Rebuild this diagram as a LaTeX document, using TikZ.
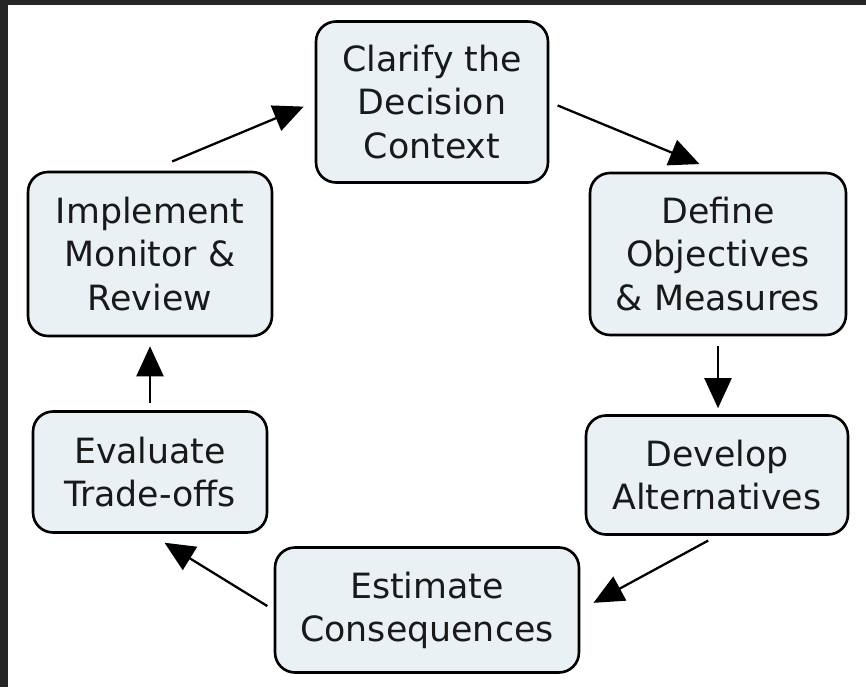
\documentclass[tikz,border=0pt]{standalone}
\usepackage{fontspec}
\setmainfont{DejaVu Sans}
\usetikzlibrary{arrows.meta}
\definecolor{stageFill}{RGB}{234, 241, 245}
\definecolor{frameDark}{RGB}{38, 38, 38}
\definecolor{textDark}{RGB}{25, 25, 25}

\begin{document}
\begin{tikzpicture} [
        x=0.02cm, y=-0.02cm,
        font=\fontsize{19.8}{24.5}\selectfont,
        stage/.style={draw, line width=1.5pt, rounded corners=0.4cm, fill=stageFill, align=center, text=textDark, inner sep=0pt},
        flow/.style={line width=1.3pt, -{Triangle[length=0.6cm, width=0.54cm]}},
    ]

    % frame of the screenshot
    \fill[frameDark] (0,0) rectangle (866,687);
    \fill[white] (8,5) rectangle (866,687);
    \useasboundingbox (0,0) rectangle (866,687);

    \path (432,102) node[stage, minimum width=4.64cm, minimum height=3.22cm] (clarify) {Clarify the\\Decision\\Context};
    \path (718,254) node[stage, minimum width=5.12cm, minimum height=3.24cm] (define) {Define\\Objectives\\\& Measures};
    \path (717,475) node[stage, minimum width=5.24cm, minimum height=2.38cm] (develop) {Develop\\Alternatives};
    \path (427,610) node[stage, minimum width=6.08cm, minimum height=2.5cm] (estimate) {Estimate\\Consequences};
    \path (150,472) node[stage, minimum width=4.68cm, minimum height=2.42cm] (evaluate) {Evaluate\\Trade-offs};
    \path (150,254) node[stage, minimum width=4.88cm, minimum height=3.28cm] (implement) {Implement\\Monitor \&\\Review};

    \draw[flow, shorten <=0.48cm, shorten >=0.24cm] (implement.north) -- (clarify.west);
    \draw[flow, shorten <=0.18cm, shorten >=0.4cm] (clarify.east) -- (define.north);
    \draw[flow, shorten <=0.2cm, shorten >=0.12cm] (define.south) -- (define.south |- develop.north);
    \draw[flow, shorten <=0.2cm, shorten >=0.3cm] (develop.south) -- (estimate.east);
    \draw[flow, shorten <=0.15cm, shorten >=0.34cm] (estimate.west) -- (evaluate.south);
    \draw[flow, shorten <=0.14cm, shorten >=0.18cm] (evaluate.north) -- (implement.south);

\end{tikzpicture}
\end{document}
